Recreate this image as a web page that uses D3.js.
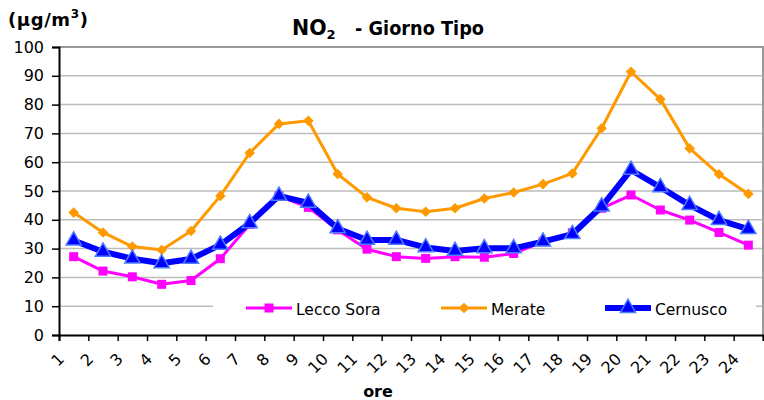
<!DOCTYPE html>
<html>
<head>
<meta charset="utf-8">
<script src="https://cdn.jsdelivr.net/npm/d3@7/dist/d3.min.js"></script>
<style>
  html, body { margin: 0; padding: 0; background: #fff; }
  svg { display: block; font-family: "DejaVu Sans", Verdana, sans-serif; }
</style>
</head>
<body>
<svg id="chart" width="764" height="400"></svg>
<script>
// Hourly NO2 typical-day profile (µg/m³) at three stations
const hours = ["1","2","3","4","5","6","7","8","9","10","11","12",
               "13","14","15","16","17","18","19","20","21","22","23","24"];
const yTicks = [0,10,20,30,40,50,60,70,80,90,100];

const leccoSora = [27.2,22.2,20.2,17.6,18.9,26.5,38.4,48.3,44.3,36.5,29.8,27.2,
                   26.6,27.2,27.0,28.3,32.4,35.5,44.0,48.6,43.4,39.9,35.6,31.2];
const merate    = [42.5,35.6,30.7,29.5,36.1,48.3,63.2,73.3,74.4,55.9,47.8,44.0,
                   42.8,44.0,47.4,49.5,52.4,56.1,71.8,91.4,81.9,64.8,55.8,49.0];
const cernusco  = [32.8,28.9,26.5,24.9,26.4,31.3,38.8,48.3,45.9,37.0,33.0,33.0,
                   30.4,29.2,30.1,30.1,32.4,35.0,44.6,57.3,51.3,45.1,39.9,36.8];

const seriesNames = ["Lecco Sora","Merate","Cernusco"];

const series = [
  {name: seriesNames[0], values: leccoSora, color: "#ff00ff", width: 3,
   marker: "square"},
  {name: seriesNames[1], values: merate, color: "#ff9900", width: 3,
   marker: "diamond"},
  {name: seriesNames[2], values: cernusco, color: "#0000ff", width: 6,
   marker: "triangle"}
];

const svg = d3.select("#chart");
const L = 59, R = 763, T = 47, B = 335;

const x = d3.scaleBand().domain(hours).range([L, R]);
const xEdge = d3.scaleLinear().domain([0, hours.length]).range([L, R]);
const y = d3.scaleLinear().domain([0, 100]).range([B, T]);

// horizontal gridlines
svg.append("g")
  .selectAll("line")
  .data(yTicks.filter(v => v > 0 && v < 100))
  .join("line")
  .attr("x1", L).attr("x2", R)
  .attr("y1", d => y(d)).attr("y2", d => y(d))
  .attr("stroke", "#bdbdbd").attr("stroke-width", 1.5);

// plot-area frame (top and right)
svg.append("path")
  .attr("d", `M${L},${y(100)}H${R}V${B}`)
  .attr("fill", "none").attr("stroke", "#9a9a9a").attr("stroke-width", 2);

// y axis
const yAxis = svg.append("g")
  .attr("transform", `translate(${L},0)`)
  .call(d3.axisLeft(y).tickValues(yTicks).tickSize(7).tickPadding(8));
yAxis.select(".domain").attr("stroke", "#000").attr("stroke-width", 2);
yAxis.selectAll(".tick line").attr("stroke", "#000").attr("stroke-width", 1.5);
yAxis.selectAll(".tick text")
  .attr("font-size", 16).attr("fill", "#000")
  .attr("font-family", "'DejaVu Sans', Verdana, sans-serif");

// x axis: ticks on category boundaries, labels rotated under each hour
const xAxis = svg.append("g")
  .attr("transform", `translate(0,${B})`)
  .call(d3.axisBottom(xEdge).tickValues(d3.range(0, hours.length + 1))
        .tickSize(6).tickFormat(""));
xAxis.select(".domain").attr("stroke", "#000").attr("stroke-width", 2);
xAxis.selectAll(".tick line").attr("stroke", "#000").attr("stroke-width", 1.5);

svg.append("g")
  .selectAll("text")
  .data(hours)
  .join("text")
  .attr("transform", d => `translate(${x(d) + x.bandwidth() / 2 - 8.5},360) rotate(-45)`)
  .attr("text-anchor", "end")
  .attr("font-size", 16)
  .text(d => d);

// lines and markers
const line = d3.line()
  .x((d, i) => x(hours[i]) + x.bandwidth() / 2)
  .y(d => y(d));

const symbolFor = {
  square:   d3.symbol().type(d3.symbolSquare).size(81),
  diamond:  d3.symbol().type(d3.symbolSquare).size(56),
  triangle: d3.symbol().type(d3.symbolTriangle).size(100)
};

function drawMarker(g, kind, color) {
  const p = g.append("path").attr("d", symbolFor[kind]());
  if (kind === "diamond") p.attr("transform", "rotate(45)");
  if (kind === "triangle") {
    p.attr("fill", color).attr("stroke", "#4d7dff").attr("stroke-width", 1.5);
  } else {
    p.attr("fill", color);
  }
}

series.forEach(s => {
  const g = svg.append("g");
  g.append("path")
    .datum(s.values)
    .attr("d", line)
    .attr("fill", "none")
    .attr("stroke", s.color)
    .attr("stroke-width", s.width)
    .attr("stroke-linejoin", "round");
  g.selectAll("g.m")
    .data(s.values)
    .join("g")
    .attr("class", "m")
    .attr("transform", (d, i) => `translate(${x(hours[i]) + x.bandwidth() / 2},${y(d)})`)
    .each(function() { drawMarker(d3.select(this), s.marker, s.color); });
});

// legend
const legend = svg.append("g");
legend.append("rect")
  .attr("x", 213).attr("y", 293).attr("width", 543).attr("height", 29)
  .attr("fill", "#fff");
const legendX = [246, 441, 605];
series.forEach((s, i) => {
  const lg = legend.append("g").attr("transform", `translate(${legendX[i]},308)`);
  lg.append("line")
    .attr("x1", 0).attr("x2", 46)
    .attr("stroke", s.color).attr("stroke-width", s.width);
  const mg = lg.append("g").attr("transform", "translate(23,0)");
  drawMarker(mg, s.marker, s.color);
  lg.append("text")
    .attr("x", 50).attr("y", 7)
    .attr("font-size", 15.5)
    .text(s.name);
});

// title
const title = svg.append("text")
  .attr("x", 292).attr("y", 35)
  .attr("font-weight", "bold")
  .attr("font-size", 20.5);
title.append("tspan").text("NO");
title.append("tspan").attr("font-size", 13).attr("dy", 4).text("2");
title.append("tspan").attr("x", 355).attr("dy", -4)
  .attr("font-size", 19.5)
  .attr("textLength", 129).attr("lengthAdjust", "spacingAndGlyphs")
  .text("- Giorno Tipo");

// y unit label
const unit = svg.append("text")
  .attr("x", 8).attr("y", 26)
  .attr("font-weight", "bold")
  .attr("font-size", 18)
  .attr("letter-spacing", 0.6);
unit.append("tspan").text("(µg/m");
unit.append("tspan").attr("font-size", 12).attr("dy", -8).text("3");
unit.append("tspan").attr("dy", 8).text(")");

// x axis title
svg.append("text")
  .attr("x", 378).attr("y", 397)
  .attr("text-anchor", "middle")
  .attr("font-weight", "bold")
  .attr("font-size", 16)
  .text("ore");
</script>
</body>
</html>
